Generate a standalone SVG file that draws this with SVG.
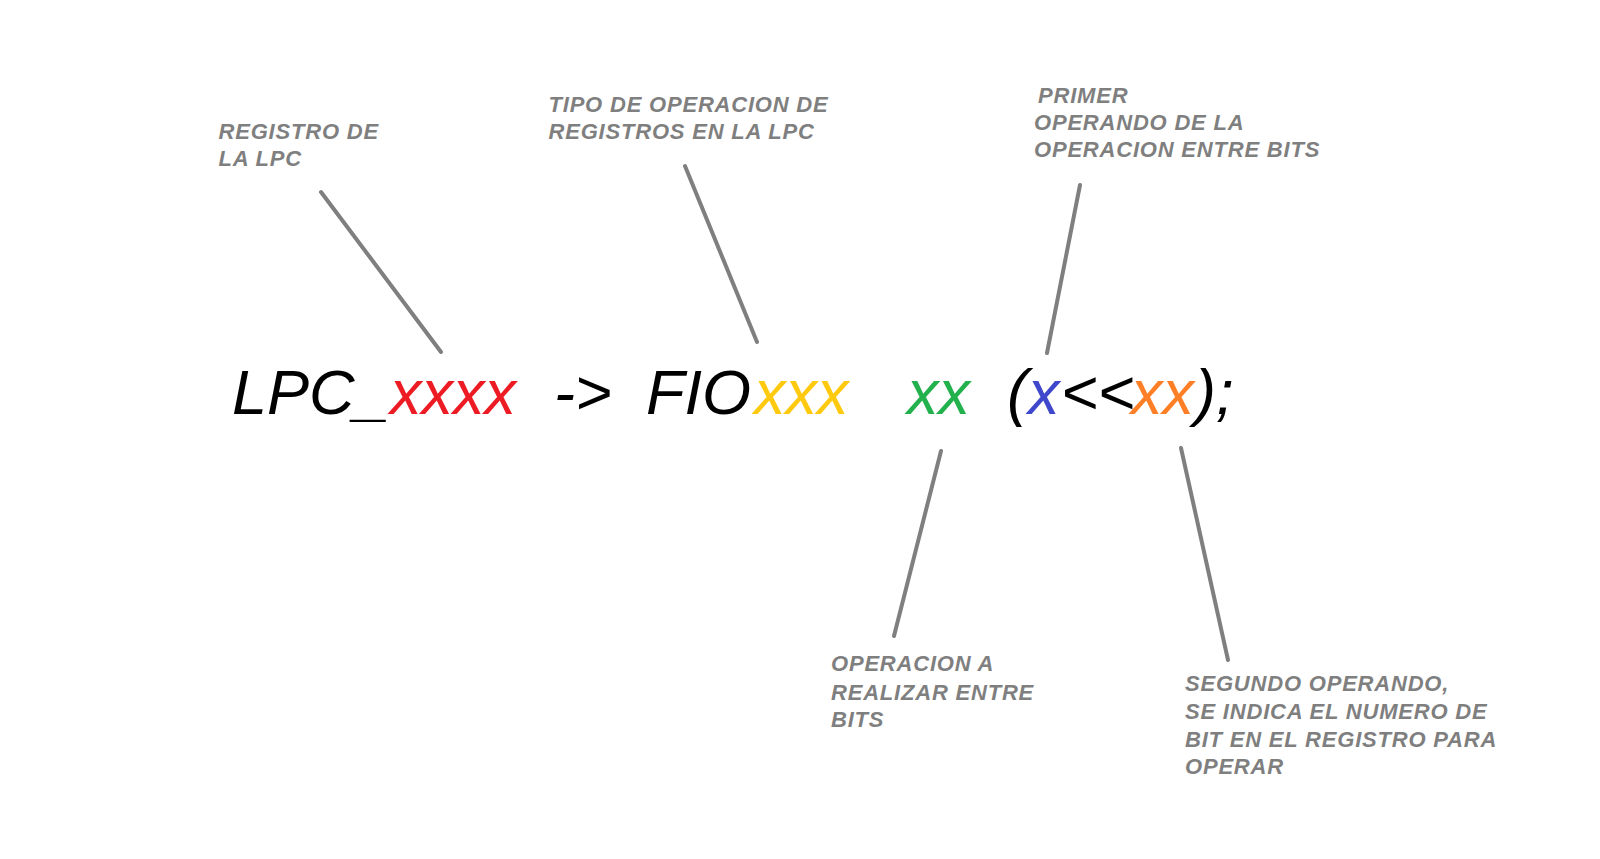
<svg xmlns="http://www.w3.org/2000/svg" width="1600" height="859" viewBox="0 0 1600 859">
<style>
.code{font-family:"Liberation Sans",Arial,sans-serif;font-style:italic;font-size:63px;fill:#000}
.lbl{font-family:"Liberation Sans",Arial,sans-serif;font-style:italic;font-weight:bold;font-size:22px;letter-spacing:0.8px;fill:#7f7f7f}
.ln{stroke:#7f7f7f;stroke-width:4;stroke-linecap:round;fill:none}
</style>
<rect width="1600" height="859" fill="#ffffff"/>
<g id="code">
<text class="code" y="414"><tspan x="232">LPC_</tspan><tspan x="390" fill="#ed1c24">xxxx</tspan><tspan x="554">-&gt;</tspan><tspan x="646">FIO</tspan><tspan x="754" fill="#ffc90e">xxx</tspan><tspan x="907" fill="#22b14c">xx</tspan><tspan x="1007">(</tspan><tspan x="1028" fill="#3f48cc">x</tspan><tspan x="1061">&lt;&lt;</tspan><tspan x="1131" fill="#ff7f27">xx</tspan><tspan x="1195">);</tspan></text>
</g>
<g id="connectors">
<line class="ln" x1="321" y1="192" x2="441" y2="352"/>
<line class="ln" x1="685" y1="166" x2="757" y2="342"/>
<line class="ln" x1="1080" y1="185" x2="1047" y2="353"/>
<line class="ln" x1="941" y1="451" x2="894" y2="636"/>
<line class="ln" x1="1181" y1="448" x2="1228" y2="660"/>
</g>
<g id="label-registro">
<text class="lbl"><tspan x="218.5" y="139">REGISTRO DE</tspan><tspan x="218.5" y="166">LA LPC</tspan></text>
</g>
<g id="label-tipo">
<text class="lbl"><tspan x="548.5" y="111.5">TIPO DE OPERACION DE</tspan><tspan x="548.5" y="139">REGISTROS EN LA LPC</tspan></text>
</g>
<g id="label-primer">
<text class="lbl"><tspan x="1038" y="103">PRIMER</tspan><tspan x="1034" y="129.5">OPERANDO DE LA</tspan><tspan x="1034" y="157">OPERACION ENTRE BITS</tspan></text>
</g>
<g id="label-operacion">
<text class="lbl"><tspan x="831" y="671">OPERACION A</tspan><tspan x="831" y="700">REALIZAR ENTRE</tspan><tspan x="831" y="727">BITS</tspan></text>
</g>
<g id="label-segundo">
<text class="lbl"><tspan x="1185" y="691">SEGUNDO OPERANDO,</tspan><tspan x="1185" y="719">SE INDICA EL NUMERO DE</tspan><tspan x="1185" y="747">BIT EN EL REGISTRO PARA</tspan><tspan x="1185" y="774">OPERAR</tspan></text>
</g>
</svg>
